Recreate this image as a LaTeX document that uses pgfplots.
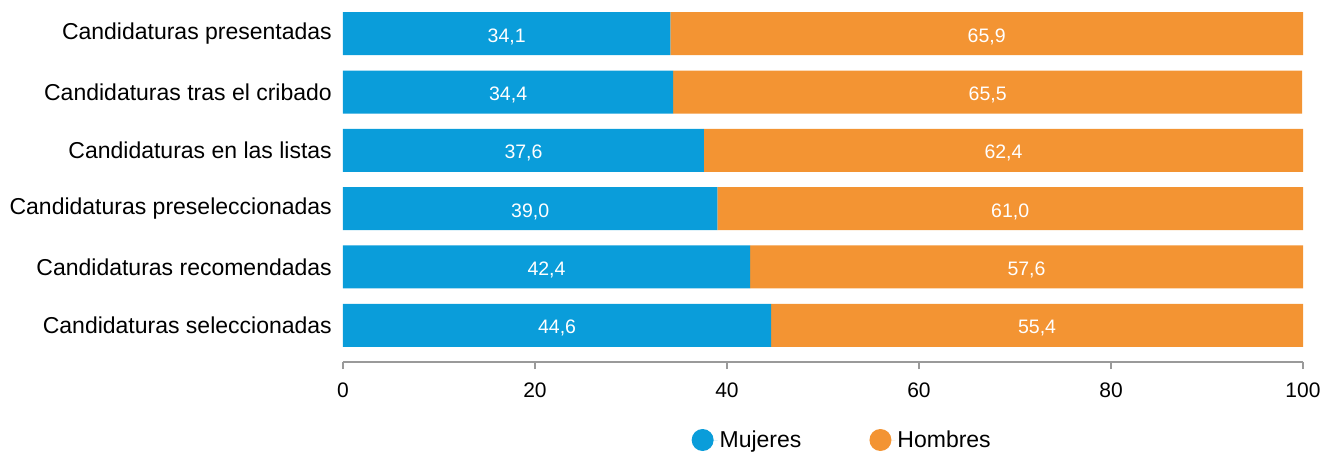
\documentclass[border=0pt]{standalone}
\usepackage{pgfplots}
\usepackage{pgfplotstable}
\pgfplotsset{compat=1.18}
\usepackage{fontspec}
\setmainfont{Liberation Sans}

\definecolor{mujer}{HTML}{0A9DDA}
\definecolor{hombre}{HTML}{F39433}
\definecolor{ejegris}{HTML}{9A9A9A}

% etapa 0 = arriba
\pgfplotstableread{
idx mujeres hombres
0 34.1 65.9
1 34.4 65.5
2 37.6 62.4
3 39.0 61.0
4 42.4 57.6
5 44.6 55.4
}\datos

\pgfplotsset{comun/.style={
  scale only axis,
  width=960pt, height=354.5pt,
  xmin=0, xmax=100,
  ymin=-0.45, ymax=5.63,
  y dir=reverse,
  /pgf/number format/assume math mode=true,
}}

\begin{document}
\begin{tikzpicture}
\begin{axis}[
comun,
name=a,
xbar stacked,
bar width=43pt,
font=\fontsize{23}{27}\selectfont,
separate axis lines,
axis x line*=bottom,
axis y line*=left,
x axis line style={draw=ejegris, line width=1.3pt},
y axis line style={draw=none},
xtick={0,20,...,100},
tick align=outside,
major tick length=7pt,
xtick style={draw=ejegris, line width=1.3pt},
ytick={0,...,5},
ytick style={draw=none},
yticklabels={Candidaturas presentadas, Candidaturas tras el cribado, Candidaturas en las listas, Candidaturas preseleccionadas, Candidaturas recomendadas, Candidaturas seleccionadas},
yticklabel style={inner sep=0pt, xshift=-4pt},
xticklabel style={inner sep=0pt, anchor=north, yshift=-14pt, font=\fontsize{21}{25}\selectfont},
legend style={at={(0.520,-0.22)}, anchor=center, draw=none, fill=none, legend columns=2,
  font=\fontsize{23}{27}\selectfont,
  /tikz/every even column/.append style={column sep=66pt}},
legend cell align=left,
legend image code/.code={\fill[#1] (11pt,0pt) circle (11pt); \path (0pt,0pt) -- (26pt,0pt);},
]
\addplot[fill=mujer, draw=none] table[x=mujeres, y=idx] {\datos};
\addlegendentry{Mujeres}
\addplot[fill=hombre, draw=none] table[x=hombres, y=idx] {\datos};
\addlegendentry{Hombres}
\end{axis}
% etiquetas de valor, centradas en cada tramo
\begin{axis}[
comun,
hide axis,
nodes near coords={\pgfmathprintnumber[fixed,fixed zerofill,precision=1,use comma]{\pgfplotspointmeta}},
every node near coord/.append style={font=\fontsize{19.5}{23}\selectfont, text=white, anchor=center, yshift=-3pt},
]
\addplot[only marks, mark=none, point meta=\thisrow{mujeres}] table[x expr=\thisrow{mujeres}/2, y=idx] {\datos};
\addplot[only marks, mark=none, point meta=\thisrow{hombres}] table[x expr=\thisrow{mujeres}+\thisrow{hombres}/2, y=idx] {\datos};
\end{axis}
\pgfresetboundingbox
\path[use as bounding box] (a.south west) ++(-343pt,-89pt) rectangle ++(1325pt,451pt);
\end{tikzpicture}
\end{document}
